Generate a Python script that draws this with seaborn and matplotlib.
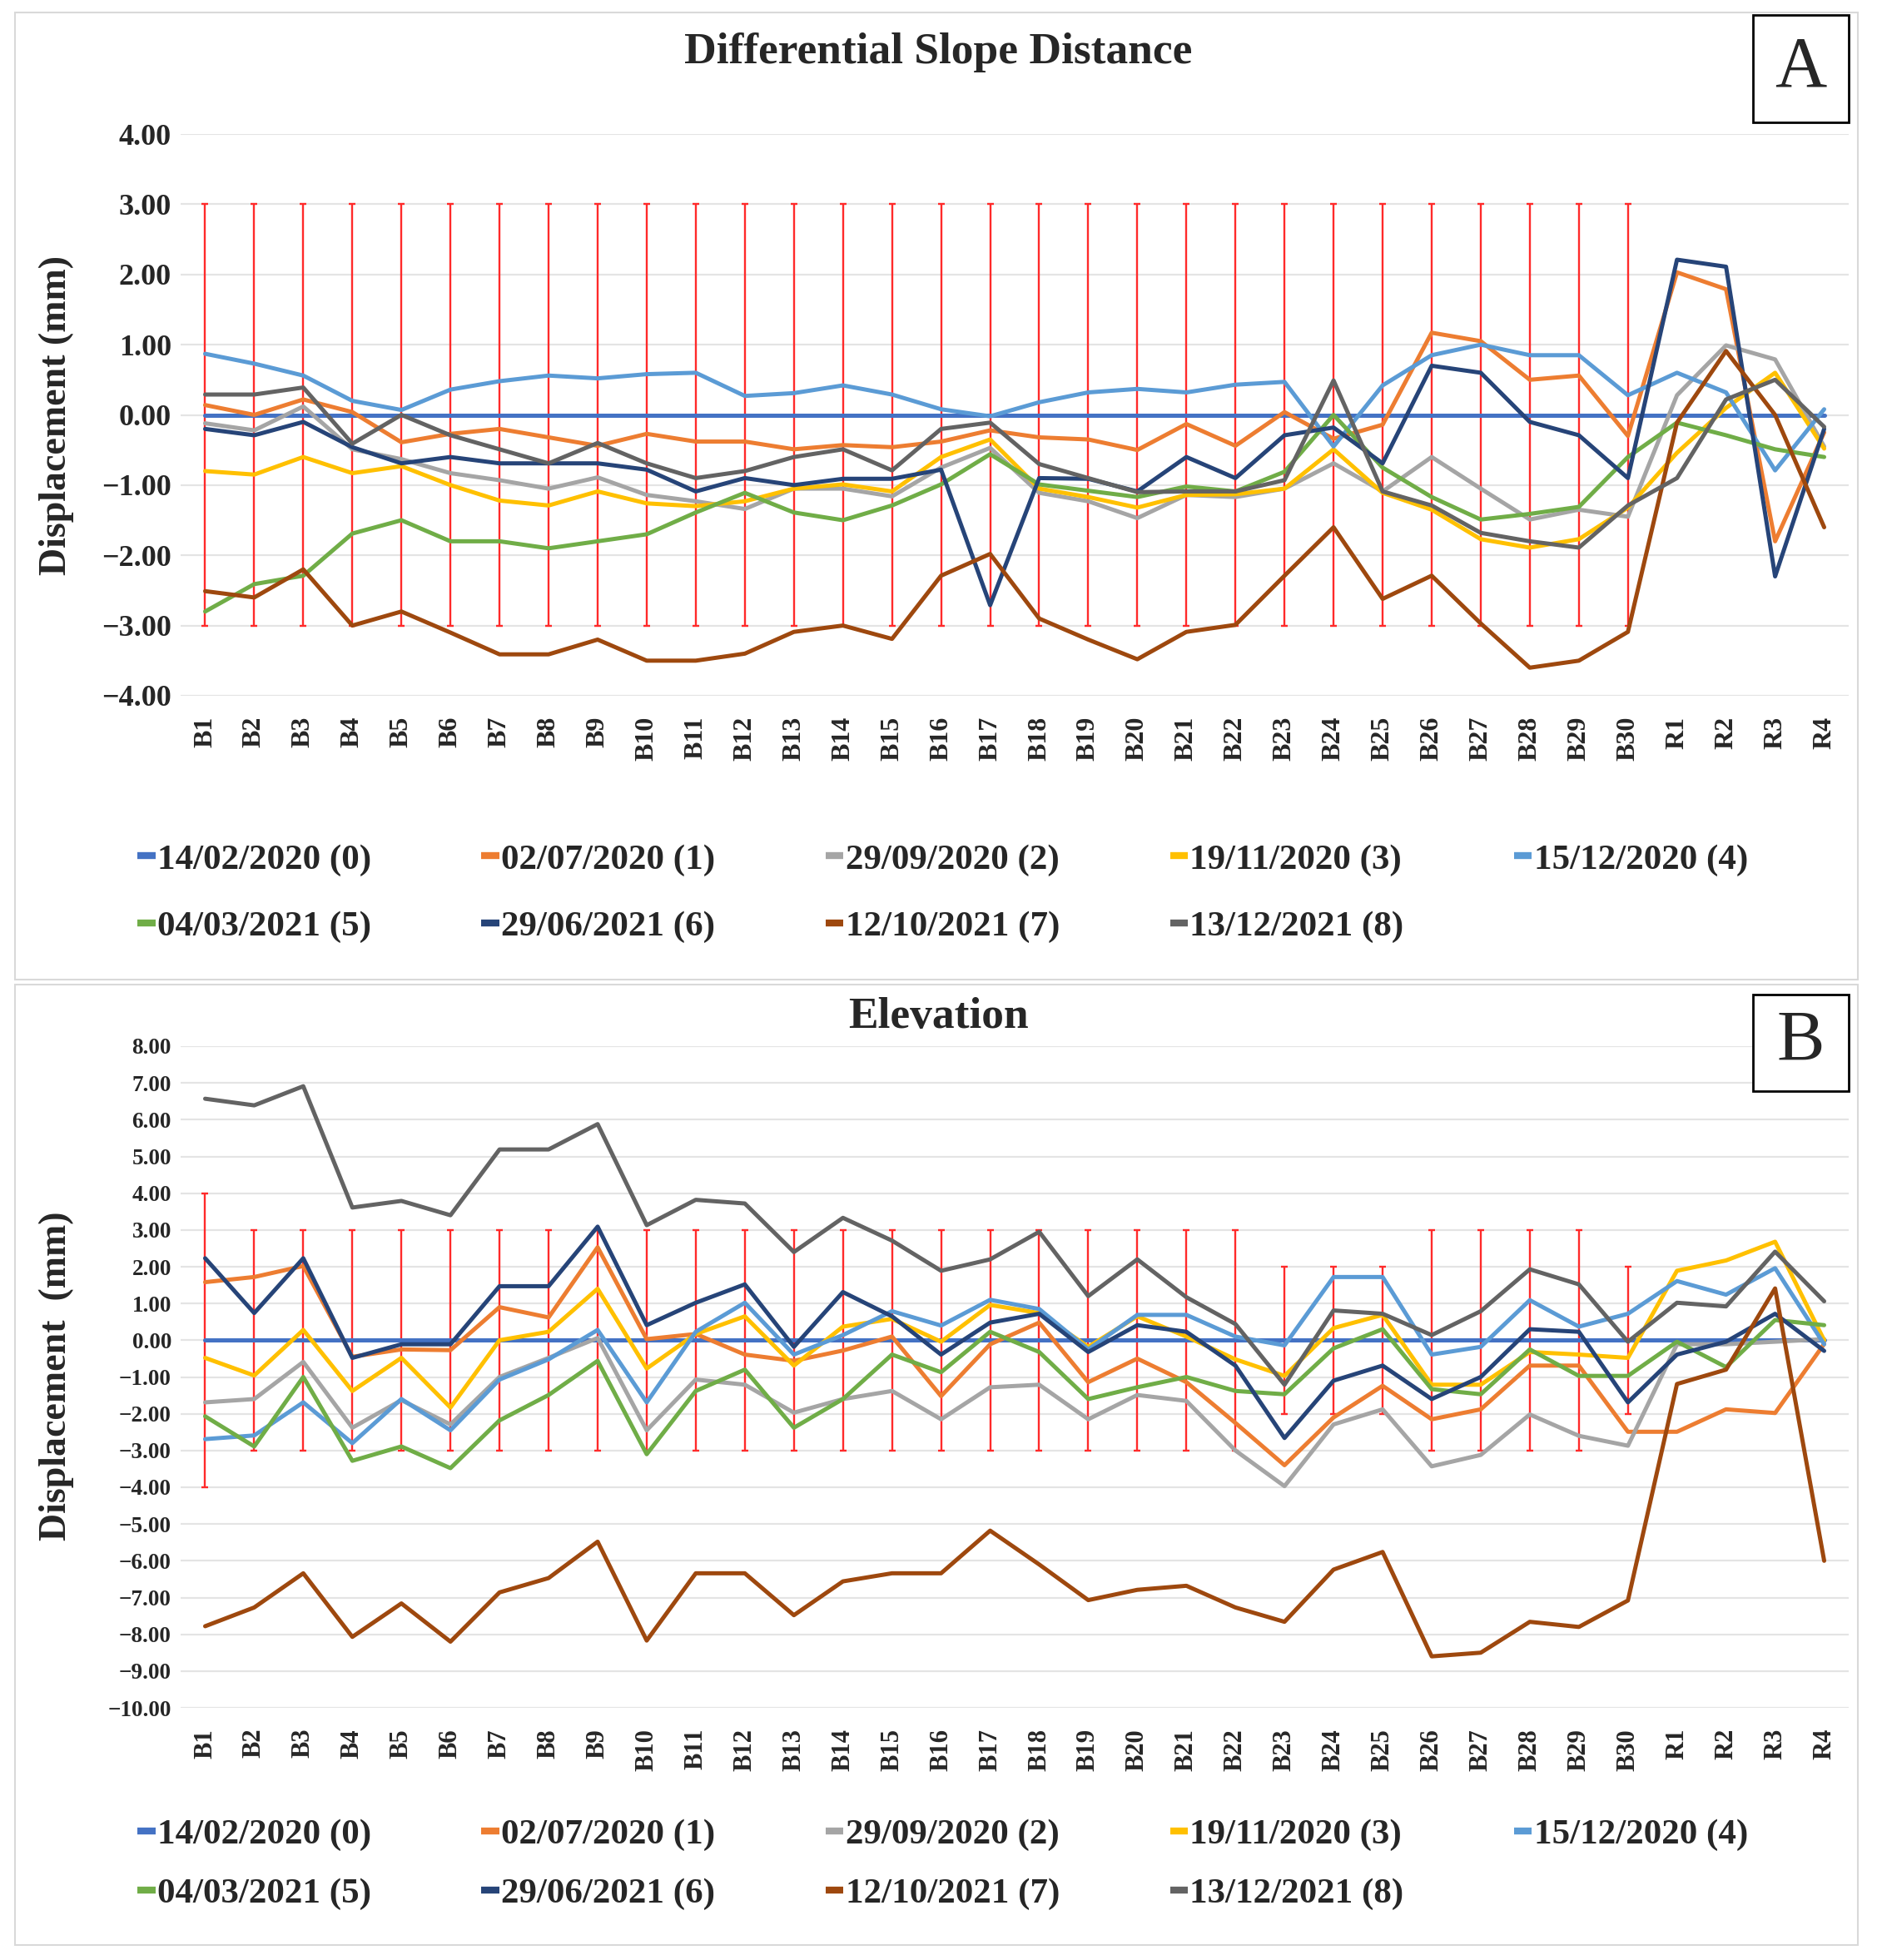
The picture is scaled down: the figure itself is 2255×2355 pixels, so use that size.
import numpy as np
import pandas as pd
import matplotlib
matplotlib.use("Agg")
import matplotlib.pyplot as plt
import seaborn as sns
from matplotlib.patches import Rectangle

# ---------------- data ----------------
cats = ['B1', 'B2', 'B3', 'B4', 'B5', 'B6', 'B7', 'B8', 'B9', 'B10',
        'B11', 'B12', 'B13', 'B14', 'B15', 'B16', 'B17', 'B18', 'B19', 'B20',
        'B21', 'B22', 'B23', 'B24', 'B25', 'B26', 'B27', 'B28', 'B29', 'B30',
        'R1', 'R2', 'R3', 'R4']

series_labels = ['14/02/2020 (0)', '02/07/2020 (1)', '29/09/2020 (2)',
                 '19/11/2020 (3)', '15/12/2020 (4)', '04/03/2021 (5)',
                 '29/06/2021 (6)', '12/10/2021 (7)', '13/12/2021 (8)']

colors = ['#4472C4', '#ED7D31', '#A5A5A5', '#FFC000', '#5B9BD5',
          '#70AD47', '#264478', '#9E480E', '#636363']

# Panel A : Differential Slope Distance
A_0 = [0.0] * 34
A_1 = [0.14, 0.0, 0.22, 0.04, -0.39, -0.27, -0.2, -0.32, -0.44, -0.27,
       -0.38, -0.38, -0.49, -0.43, -0.46, -0.38, -0.22, -0.32, -0.35, -0.5,
       -0.13, -0.44, 0.04, -0.34, -0.14, 1.17, 1.05, 0.5, 0.56, -0.3,
       2.03, 1.79, -1.8, -0.25]
A_2 = [-0.12, -0.22, 0.12, -0.49, -0.63, -0.83, -0.93, -1.05, -0.89, -1.14,
       -1.23, -1.34, -1.05, -1.05, -1.16, -0.75, -0.47, -1.11, -1.23, -1.47,
       -1.14, -1.17, -1.05, -0.69, -1.09, -0.6, -1.05, -1.49, -1.35, -1.45,
       0.28, 0.99, 0.79, -0.45]
A_3 = [-0.8, -0.85, -0.6, -0.83, -0.73, -1.0, -1.22, -1.29, -1.09, -1.26,
       -1.3, -1.23, -1.05, -0.99, -1.09, -0.6, -0.35, -1.05, -1.17, -1.32,
       -1.14, -1.13, -1.05, -0.49, -1.11, -1.35, -1.77, -1.89, -1.77, -1.32,
       -0.54, 0.1, 0.6, -0.48]
A_4 = [0.87, 0.73, 0.56, 0.2, 0.07, 0.36, 0.48, 0.56, 0.52, 0.58,
       0.6, 0.27, 0.31, 0.42, 0.29, 0.08, -0.02, 0.18, 0.32, 0.37,
       0.32, 0.43, 0.47, -0.45, 0.42, 0.85, 1.0, 0.85, 0.85, 0.28,
       0.6, 0.32, -0.79, 0.08]
A_5 = [-2.8, -2.41, -2.29, -1.69, -1.5, -1.8, -1.8, -1.9, -1.8, -1.7,
       -1.39, -1.11, -1.39, -1.5, -1.29, -0.99, -0.56, -0.99, -1.08, -1.17,
       -1.02, -1.09, -0.81, 0.0, -0.75, -1.17, -1.49, -1.41, -1.31, -0.6,
       -0.11, -0.29, -0.49, -0.6]
A_6 = [-0.2, -0.29, -0.1, -0.46, -0.69, -0.6, -0.69, -0.69, -0.69, -0.78,
       -1.09, -0.9, -1.0, -0.91, -0.91, -0.78, -2.71, -0.9, -0.91, -1.09,
       -0.6, -0.9, -0.29, -0.18, -0.69, 0.7, 0.6, -0.1, -0.29, -0.9,
       2.21, 2.11, -2.3, -0.2]
A_7 = [-2.51, -2.6, -2.2, -3.0, -2.8, -3.1, -3.41, -3.41, -3.2, -3.5,
       -3.5, -3.4, -3.09, -3.0, -3.19, -2.29, -1.98, -2.9, -3.2, -3.48,
       -3.09, -2.99, -2.29, -1.6, -2.62, -2.29, -2.97, -3.6, -3.5, -3.09,
       -0.11, 0.91, 0.0, -1.6]
A_8 = [0.29, 0.29, 0.39, -0.41, 0.0, -0.29, -0.49, -0.69, -0.4, -0.69,
       -0.9, -0.8, -0.6, -0.49, -0.79, -0.2, -0.11, -0.7, -0.9, -1.1,
       -1.09, -1.09, -0.93, 0.49, -1.09, -1.29, -1.68, -1.8, -1.89, -1.29,
       -0.9, 0.22, 0.5, -0.17]
err_A = [3, 3, 3, 3, 3, 3, 3, 3, 3, 3, 3, 3, 3, 3, 3,
         3, 3, 3, 3, 3, 3, 3, 3, 3, 3, 3, 3, 3, 3, 3]

# Panel B : Elevation
B_0 = [0.0] * 34
B_1 = [1.58, 1.72, 2.02, -0.45, -0.25, -0.27, 0.9, 0.62, 2.53, 0.03,
       0.17, -0.39, -0.56, -0.28, 0.1, -1.52, -0.11, 0.48, -1.14, -0.5,
       -1.14, -2.25, -3.4, -2.1, -1.24, -2.15, -1.88, -0.69, -0.69, -2.49,
       -2.49, -1.88, -1.98, -0.1]
B_2 = [-1.69, -1.6, -0.59, -2.38, -1.63, -2.29, -1.0, -0.48, 0.06, -2.45,
       -1.07, -1.21, -1.97, -1.6, -1.38, -2.15, -1.28, -1.21, -2.15, -1.49,
       -1.65, -3.0, -3.97, -2.29, -1.88, -3.43, -3.12, -2.02, -2.6, -2.87,
       -0.11, -0.11, -0.04, 0.03]
B_3 = [-0.48, -0.96, 0.28, -1.38, -0.48, -1.83, 0.0, 0.23, 1.4, -0.77,
       0.17, 0.65, -0.69, 0.37, 0.58, -0.04, 0.96, 0.74, -0.18, 0.65,
       0.1, -0.52, -0.97, 0.33, 0.69, -1.21, -1.21, -0.32, -0.39, -0.48,
       1.89, 2.17, 2.68, 0.0]
B_4 = [-2.69, -2.59, -1.69, -2.8, -1.6, -2.45, -1.07, -0.52, 0.28, -1.69,
       0.23, 1.02, -0.39, 0.14, 0.79, 0.4, 1.1, 0.85, -0.25, 0.69,
       0.69, 0.1, -0.14, 1.72, 1.72, -0.39, -0.18, 1.09, 0.37, 0.72,
       1.61, 1.24, 1.96, -0.11]
B_5 = [-2.07, -2.89, -1.0, -3.28, -2.89, -3.48, -2.18, -1.49, -0.56, -3.1,
       -1.38, -0.8, -2.38, -1.6, -0.39, -0.87, 0.23, -0.32, -1.6, -1.28,
       -1.0, -1.38, -1.47, -0.22, 0.3, -1.33, -1.47, -0.25, -0.97, -0.97,
       -0.04, -0.73, 0.55, 0.41]
B_6 = [2.23, 0.74, 2.23, -0.48, -0.11, -0.11, 1.47, 1.47, 3.09, 0.41,
       1.02, 1.52, -0.18, 1.31, 0.65, -0.39, 0.48, 0.72, -0.32, 0.41,
       0.23, -0.69, -2.66, -1.1, -0.69, -1.6, -1.0, 0.3, 0.23, -1.69,
       -0.39, -0.04, 0.72, -0.29]
B_7 = [-7.78, -7.27, -6.34, -8.07, -7.16, -8.2, -6.86, -6.47, -5.48, -8.17,
       -6.34, -6.34, -7.48, -6.56, -6.34, -6.34, -5.18, -6.1, -7.07, -6.79,
       -6.68, -7.27, -7.66, -6.24, -5.76, -8.6, -8.5, -7.66, -7.8, -7.08,
       -1.19, -0.8, 1.41, -6.0]
B_8 = [6.57, 6.39, 6.91, 3.61, 3.79, 3.4, 5.19, 5.19, 5.88, 3.13,
       3.82, 3.72, 2.4, 3.33, 2.71, 1.89, 2.2, 2.95, 1.2, 2.2,
       1.17, 0.44, -1.21, 0.81, 0.72, 0.14, 0.79, 1.93, 1.52, -0.04,
       1.02, 0.92, 2.41, 1.06]
err_B = [4, 3, 3, 3, 3, 3, 3, 3, 3, 3, 3, 3, 3, 3, 3,
         3, 3, 3, 3, 3, 3, 3, 2, 2, 2, 3, 3, 3, 3, 2]

yticks_A = [4, 3, 2, 1, 0, -1, -2, -3, -4]
yticks_B = [8, 7, 6, 5, 4, 3, 2, 1, 0, -1, -2, -3, -4, -5, -6, -7, -8, -9, -10]

# ---------------- style ----------------
sns.set_theme(style="white")
plt.rcParams['font.family'] = ['Liberation Serif', 'DejaVu Serif']
plt.rcParams['font.weight'] = 'bold'

W, H = 2255, 2355
fig = plt.figure(figsize=(W / 100, H / 100), dpi=100)


def fy(py):
    return 1 - py / H


def fx(px):
    return px / W


def draw_panel(ax, series, err, yticks, ytick_fs, xtick_fs):
    x = np.arange(len(cats))
    df = pd.concat([pd.DataFrame({'pos': x, 'val': vals, 'series': lab})
                    for vals, lab in zip(series, series_labels)],
                   ignore_index=True)
    ax.errorbar(x[:len(err)], np.zeros(len(err)), yerr=err, fmt='none',
                ecolor='#FF2A2A', elinewidth=1.7, capsize=3, capthick=1.7,
                zorder=1)
    sns.lineplot(data=df, x='pos', y='val', hue='series',
                 hue_order=series_labels, palette=colors, linewidth=3.6,
                 sort=False, estimator=None, ax=ax, zorder=3)
    ax.set_xlim(-0.5, len(cats) - 0.5)
    ax.set_ylim(min(yticks), max(yticks))
    ax.set_yticks(yticks)
    ax.set_yticklabels([f'{v:.2f}'.replace('-', '\u2212') for v in yticks],
                       fontsize=ytick_fs, fontweight='bold')
    ax.set_xticks(x)
    ax.set_xticklabels(cats, rotation=90, fontsize=xtick_fs,
                       fontweight='bold')
    ax.tick_params(axis='both', length=0)
    ax.tick_params(axis='y', pad=8)
    ax.tick_params(axis='x', pad=18)
    ax.set_xlabel('')
    ax.set_ylabel('')
    ax.yaxis.grid(True, color='#E4E4E4', linewidth=1.6)
    ax.xaxis.grid(False)
    ax.set_axisbelow(True)
    for s in ax.spines.values():
        s.set_visible(False)
    handles, labels = ax.get_legend_handles_labels()
    if ax.get_legend() is not None:
        ax.get_legend().remove()
    return handles, labels


def add_legend(ax, handles, labels, ycenter, spacing):
    order = [0, 5, 1, 6, 2, 7, 3, 8, 4]
    leg = ax.legend([handles[i] for i in order], [labels[i] for i in order],
                    ncol=5, loc='center left',
                    bbox_to_anchor=(fx(165), ycenter),
                    bbox_transform=fig.transFigure, frameon=False,
                    fontsize=31, handlelength=0.5, handletextpad=0.05,
                    columnspacing=3.08, labelspacing=spacing,
                    borderaxespad=0, borderpad=0)
    for line in leg.get_lines():
        line.set_linewidth(6)
        line.set_solid_capstyle('butt')
    for t in leg.get_texts():
        t.set_fontweight('bold')


# Panel A
axA = fig.add_axes([fx(217), fy(836), fx(2221) - fx(217), fy(161) - fy(836)])
hA, lA = draw_panel(axA, [A_0, A_1, A_2, A_3, A_4, A_5, A_6, A_7, A_8],
                    err_A, yticks_A, 26, 23)
add_legend(axA, hA, lA, (fy(1031) + fy(1115)) / 2, 0.95)

# Panel B
axB = fig.add_axes([fx(217), fy(2052), fx(2221) - fx(217), fy(1257) - fy(2052)])
hB, lB = draw_panel(axB, [B_0, B_1, B_2, B_3, B_4, B_5, B_6, B_7, B_8],
                    err_B, yticks_B, 19.5, 22)
add_legend(axB, hB, lB, (fy(2203) + fy(2277)) / 2, 0.72)

# titles and axis labels
fig.text(0.5, fy(63), 'Differential Slope Distance', ha='center',
         va='center', fontsize=38.5, fontweight='bold')
fig.text(0.5, fy(1222), 'Elevation', ha='center', va='center',
         fontsize=38.5, fontweight='bold')
fig.text(fx(68), fy(499), 'Displacement (mm)', rotation=90, ha='center',
         va='center', fontsize=33, fontweight='bold')
fig.text(fx(68), fy(1653), 'Displacement  (mm)', rotation=90, ha='center',
         va='center', fontsize=33, fontweight='bold')

# panel frames
for (x0, y0, x1, y1) in [(18, 15, 2232, 1177), (18, 1183, 2232, 2337)]:
    fig.patches.append(Rectangle((fx(x0), fy(y1)), fx(x1) - fx(x0),
                                 fy(y0) - fy(y1), transform=fig.transFigure,
                                 fill=False, edgecolor='#D9D9D9',
                                 linewidth=1.5))

# letter boxes
for (x0, y0, x1, y1, letter) in [(2106, 18, 2221, 147, 'A'),
                                 (2106, 1195, 2221, 1311, 'B')]:
    fig.patches.append(Rectangle((fx(x0), fy(y1)), fx(x1) - fx(x0),
                                 fy(y0) - fy(y1), transform=fig.transFigure,
                                 fill=True, facecolor='white',
                                 edgecolor='black', linewidth=2))
    fig.text((fx(x0) + fx(x1)) / 2, (fy(y0) + fy(y1)) / 2, letter,
             ha='center', va='center', fontsize=62, fontweight='normal')

fig.savefig('out.png', dpi=100, facecolor='white')
